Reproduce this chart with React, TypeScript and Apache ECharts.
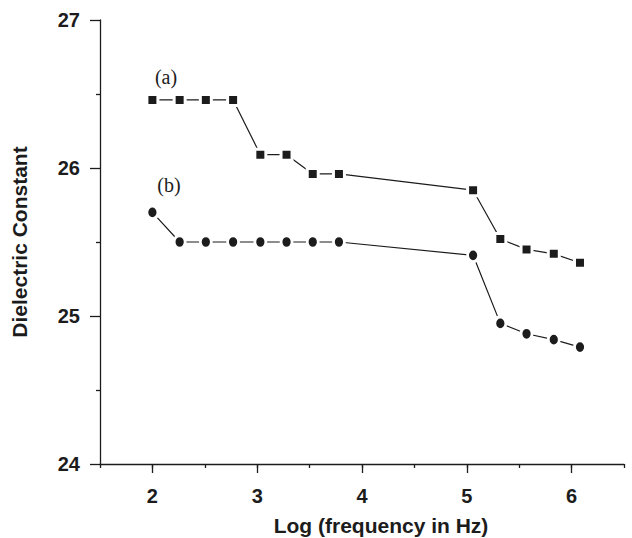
import { useEffect, useRef } from "react";
import * as echarts from "echarts";

// Log(frequency in Hz) positions
const logFreqA = [2, 2.26, 2.51, 2.77, 3.03, 3.28, 3.53, 3.78, 5.06, 5.32, 5.57, 5.83, 6.08];
const dielectricA = [26.46, 26.46, 26.46, 26.46, 26.09, 26.09, 25.96, 25.96, 25.85, 25.52, 25.45, 25.42, 25.36];
const logFreqB = [2, 2.26, 2.51, 2.77, 3.03, 3.28, 3.53, 3.78, 5.06, 5.32, 5.57, 5.83, 6.08];
const dielectricB = [25.7, 25.5, 25.5, 25.5, 25.5, 25.5, 25.5, 25.5, 25.41, 24.95, 24.88, 24.84, 24.79];
const xTickValues = [2, 3, 4, 5, 6];
const seriesTags = ["(a)", "(b)"];

const SANS = "'Liberation Sans', Arial, Helvetica, sans-serif";
const SERIF = "'Liberation Serif', 'Times New Roman', serif";
const INK = "#1c1c1c";

export default function App() {
  const ref = useRef<HTMLDivElement>(null);
  useEffect(() => {
    if (!ref.current) return;
    const chart = echarts.init(ref.current, undefined, { renderer: "svg" });
    const ellipse = "path://M1,0A1,1,0,1,1,1,2A1,1,0,1,1,1,0Z";
    chart.setOption({
      animation: false,
      backgroundColor: "#fff",
      grid: { left: 100, right: 8, top: 20, bottom: 74, containLabel: false, outerBoundsMode: "none" },
      xAxis: [
        {
          type: "value",
          min: 1.5,
          max: 6.5,
          position: "bottom",
          name: "Log (frequency in Hz)",
          nameLocation: "middle",
          nameGap: 50,
          nameTextStyle: { fontFamily: SANS, fontWeight: "bold", fontSize: 21, lineHeight: 22, color: INK, padding: [0, 0, 0, 38] },
          axisLine: { show: true, lineStyle: { color: INK, width: 1.3 } },
          axisTick: { show: true, customValues: xTickValues, length: 9, lineStyle: { color: INK, width: 1.3 } },
          axisLabel: { customValues: xTickValues, margin: 22, fontFamily: SANS, fontWeight: "bold", fontSize: 20, color: INK },
          splitLine: { show: false },
        },
        {
          type: "value",
          min: 1.5,
          max: 6.5,
          interval: 0.5,
          position: "bottom",
          offset: 0,
          axisLine: { show: false },
          axisTick: { show: true, length: 4, lineStyle: { color: INK, width: 1.3 } },
          axisLabel: { show: false },
          splitLine: { show: false },
        },
      ],
      yAxis: {
        type: "value",
        min: 24,
        max: 27,
        interval: 1,
        name: "Dielectric Constant",
        nameLocation: "middle",
        nameGap: 70,
        nameTextStyle: { fontFamily: SANS, fontWeight: "bold", fontSize: 21, color: INK },
        axisLine: { show: true, lineStyle: { color: INK, width: 1.3 } },
        axisTick: { show: true, length: 10, lineStyle: { color: INK, width: 1.3 } },
        minorTick: { show: true, splitNumber: 2, length: 4, lineStyle: { color: INK, width: 1.3 } },
        axisLabel: { margin: 20, fontFamily: SANS, fontWeight: "bold", fontSize: 20, color: INK },
        splitLine: { show: false },
        minorSplitLine: { show: false },
      },
      series: [
        {
          name: seriesTags[0],
          type: "line",
          xAxisIndex: 0,
          data: logFreqA.map((x, i) => [x, dielectricA[i]]),
          symbol: "rect",
          symbolSize: 11,
          itemStyle: { color: INK, borderColor: "#fff", borderWidth: 3 },
          lineStyle: { color: INK, width: 1.2 },
          emphasis: { disabled: true },
        },
        {
          name: seriesTags[1],
          type: "line",
          xAxisIndex: 0,
          data: logFreqB.map((x, i) => [x, dielectricB[i]]),
          symbol: ellipse,
          symbolSize: [11, 13],
          itemStyle: { color: INK, borderColor: "#fff", borderWidth: 3 },
          lineStyle: { color: INK, width: 1.2 },
          emphasis: { disabled: true },
        },
      ],
      graphic: [
        {
          type: "text",
          x: 166,
          y: 77,
          style: { text: seriesTags[0], font: `20px ${SERIF}`, fill: INK, align: "center", verticalAlign: "middle" },
        },
        {
          type: "text",
          x: 169,
          y: 185,
          style: { text: seriesTags[1], font: `20px ${SERIF}`, fill: INK, align: "center", verticalAlign: "middle" },
        },
      ],
    });
    return () => chart.dispose();
  }, []);
  return <div ref={ref} style={{ position: "fixed", left: 0, top: 0, width: 632, height: 538 }} />;
}
